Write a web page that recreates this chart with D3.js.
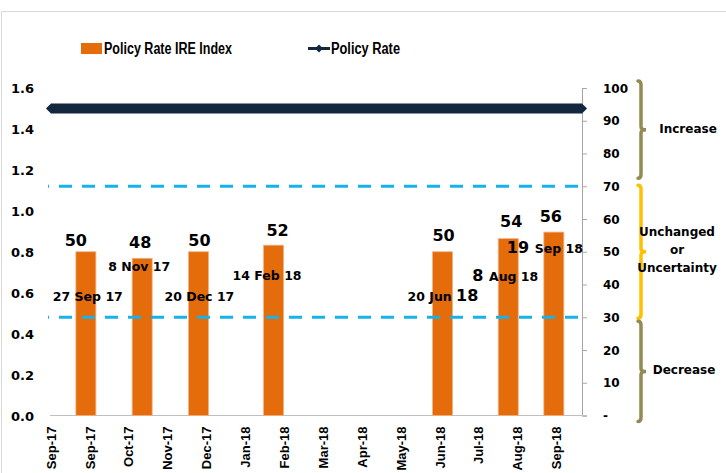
<!DOCTYPE html>
<html>
<head>
<meta charset="utf-8">
<script src="https://cdn.jsdelivr.net/npm/d3@7"></script>
<style>
  body { margin: 0; background: #fff; }
  svg { display: block; }
  .num { font-family: "DejaVu Sans", Verdana, sans-serif; font-weight: bold; fill: #000; }
  .leg { font-family: "Liberation Sans", Arial, sans-serif; font-weight: bold; font-size: 16px; fill: #000; }
  .xlab { font-family: "Liberation Sans", Arial, sans-serif; font-weight: bold; font-size: 13px; fill: #000; }
</style>
</head>
<body>
<div id="chart"></div>
<script>
"use strict";

// IRE index readings (right axis), one bar per policy meeting
const ireDates = ["2017-09-27", "2017-11-08", "2017-12-20", "2018-02-14", "2018-06-20", "2018-08-08", "2018-09-11"];
const ireValues = [50, 48, 50, 52, 50, 54, 56];
const meetingNotes = ["27 Sep 17", "8 Nov 17", "20 Dec 17", "14 Feb 18", "20 Jun 18", "8 Aug 18", "19 Sep 18"];

// policy rate (left axis)
const policyDates = ["2017-09-01", "2018-10-02"];
const policyValues = [1.5, 1.5];

// axes
const xTickDates = ["2017-09-01", "2017-09-30", "2017-10-29", "2017-11-27", "2017-12-26", "2018-01-24",
  "2018-02-22", "2018-03-23", "2018-04-21", "2018-05-20", "2018-06-18", "2018-07-17", "2018-08-15", "2018-09-13"];
const leftTicks = [0, 0.2, 0.4, 0.6, 0.8, 1.0, 1.2, 1.4, 1.6];
const rightTicks = [0, 10, 20, 30, 40, 50, 60, 70, 80, 90, 100];

// zones of the index
const thresholds = [70, 30];
const zoneNames = [["Increase"], ["Unchanged", "or", "Uncertainty"], ["Decrease"]];
const zoneLow = [70, 30, 0];
const zoneHigh = [100, 70, 30];

// hand placed tweaks (px), as in the original sheet
const valueShift = [[-10, 3], [-2, -1], [1, 3], [4, 0], [1, -2], [3, -3], [-3, -1]];
const noteShift = [[-33, 35], [-34, 44], [-34, 35], [-41, 41.5], [-35, 35], [-36, 41], [-47, 49.5]];
const noteBigWord = [-1, -1, -1, -1, 2, 0, 0];
const braceTrim = [[-7, -8], [-1, 1], [4, 6]];
const zoneTextX = [688, 677, 684];

const parse = d3.utcParse("%Y-%m-%d");
const W = 726, H = 473;

const svg = d3.select("#chart").append("svg").attr("width", W).attr("height", H);

// chart frame
svg.append("rect")
  .attr("x", 1.5).attr("y", 11.5).attr("width", 800).attr("height", 500)
  .attr("fill", "none").attr("stroke", "#d9d9d9");

const x = d3.scaleUtc()
  .domain([parse("2017-09-01"), parse("2018-10-02")])
  .range([51, 582]);
const yL = d3.scaleLinear().domain([0, 1.6]).range([415.5, 88]);
const yR = d3.scaleLinear().domain([0, 100]).range([415.5, 88]);

// left axis, labels only
const gl = svg.append("g").attr("transform", "translate(34,0)")
  .call(d3.axisLeft(yL).tickValues(leftTicks).tickFormat(d3.format(".1f")).tickSize(0));
gl.select(".domain").remove();
gl.selectAll("text").attr("class", "num").attr("font-size", 13).attr("dy", "0.35em").attr("x", 0);

// right axis
const gr = svg.append("g").attr("transform", "translate(582,0)")
  .call(d3.axisRight(yR).tickValues(rightTicks).tickSize(5)
    .tickFormat((d) => (d === 0 ? "-" : d)));
gr.select(".domain").attr("stroke", "#a6a6a6");
gr.selectAll(".tick line").attr("stroke", "#a6a6a6");
gr.selectAll("text").attr("class", "num").attr("font-size", 12).attr("x", 21).attr("dy", "0.35em");

// x axis
svg.append("line")
  .attr("x1", x.range()[0] - 1).attr("x2", x.range()[1] + 5)
  .attr("y1", yR(0)).attr("y2", yR(0))
  .attr("stroke", "#bfbfbf").attr("stroke-width", 1.2);

const fmt = d3.utcFormat("%b-%y");
svg.append("g").selectAll("text")
  .data(xTickDates)
  .join("text")
  .attr("class", "xlab")
  .attr("text-anchor", "end")
  .attr("transform", (d) => `translate(${x(parse(d))},${yR(0) + 11}) rotate(-90)`)
  .attr("dy", "0.36em")
  .text((d) => fmt(parse(d)));

// IRE bars
const barW = 20;
svg.append("g").selectAll("rect")
  .data(ireValues)
  .join("rect")
  .attr("x", (d, i) => x(parse(ireDates[i])) - barW / 2)
  .attr("y", (d) => yR(d))
  .attr("width", barW)
  .attr("height", (d) => yR(0) - yR(d))
  .attr("fill", "#e46c0a")
  .attr("stroke", "#f4b183")
  .attr("stroke-width", 0.8);

// threshold lines
svg.append("g").selectAll("line")
  .data(thresholds)
  .join("line")
  .attr("x1", x.range()[0] - 3).attr("x2", x.range()[1])
  .attr("y1", (d) => yR(d)).attr("y2", (d) => yR(d))
  .attr("stroke", "#17b2ea")
  .attr("stroke-width", 3)
  .attr("stroke-dasharray", "13,10")
  .attr("stroke-dashoffset", 12);

// policy rate line
const line = d3.line()
  .x((d, i) => x(parse(policyDates[i])))
  .y((d) => yL(d));
svg.append("path")
  .datum(policyValues)
  .attr("d", line)
  .attr("fill", "none")
  .attr("stroke", "#13273f")
  .attr("stroke-width", 10);
const diamond = d3.symbol().type(d3.symbolDiamond2).size(66);
svg.append("g").selectAll("path")
  .data(policyValues)
  .join("path")
  .attr("transform", (d, i) => `translate(${x(parse(policyDates[i]))},${yL(d)})`)
  .attr("d", diamond)
  .attr("fill", "#13273f");

// value labels
svg.append("g").selectAll("text")
  .data(ireValues)
  .join("text")
  .attr("class", "num")
  .attr("font-size", 16)
  .attr("text-anchor", "middle")
  .attr("x", (d, i) => x(parse(ireDates[i])) + valueShift[i][0])
  .attr("y", (d, i) => yR(d) - 9 + valueShift[i][1])
  .text((d) => d);

// meeting date notes
const notes = svg.append("g").selectAll("text")
  .data(meetingNotes)
  .join("text")
  .attr("class", "num")
  .attr("x", (d, i) => x(parse(ireDates[i])) + noteShift[i][0])
  .attr("y", (d, i) => yR(noteShift[i][1]));
notes.each(function (d, i) {
  const words = d.split(" ");
  const t = d3.select(this);
  words.forEach((w, k) => {
    t.append("tspan")
      .attr("font-size", k === noteBigWord[i] ? 16 : 12.5)
      .text(w + (k < words.length - 1 ? " " : ""));
  });
});

// zone braces on the right
const braceX = 641;
const braceColors = ["#948a54", "#ffc000", "#948a54"];
function bracePath(y1, y2) {
  const ym = (y1 + y2) / 2;
  return `M${braceX - 3},${y1} Q${braceX},${y1} ${braceX},${y1 + 4}` +
    ` L${braceX},${ym - 3} Q${braceX},${ym} ${braceX + 5},${ym}` +
    ` Q${braceX},${ym} ${braceX},${ym + 3} L${braceX},${y2 - 4}` +
    ` Q${braceX},${y2} ${braceX - 3},${y2}`;
}
const braceTop = (i) => yR(zoneHigh[i]) + braceTrim[i][0];
const braceBottom = (i) => yR(zoneLow[i]) + braceTrim[i][1];
const braceMid = (i) => (braceTop(i) + braceBottom(i)) / 2;

svg.append("g").selectAll("path")
  .data(zoneNames)
  .join("path")
  .attr("d", (d, i) => bracePath(braceTop(i), braceBottom(i)))
  .attr("fill", "none")
  .attr("stroke", (d, i) => braceColors[i])
  .attr("stroke-width", 3.5)
  .attr("stroke-linecap", "round");

svg.append("g").selectAll("text")
  .data(zoneNames)
  .join("text")
  .attr("class", "num")
  .attr("font-size", 12)
  .attr("text-anchor", "middle")
  .attr("y", (d, i) => braceMid(i) + 3 - (d.length - 1) * 9.5)
  .each(function (d, i) {
    d3.select(this).selectAll("tspan")
      .data(d)
      .join("tspan")
      .attr("x", zoneTextX[i])
      .attr("dy", (w, k) => (k ? 18 : 0))
      .text((w) => w);
  });

// legend
const leg = svg.append("g");
leg.append("rect").attr("x", 81).attr("y", 43).attr("width", 21).attr("height", 11).attr("fill", "#e46c0a");
leg.append("text").attr("class", "leg").attr("x", 104).attr("y", 54)
  .attr("textLength", 128).attr("lengthAdjust", "spacingAndGlyphs")
  .text("Policy Rate IRE Index");
leg.append("line").attr("x1", 308).attr("x2", 330).attr("y1", 48.5).attr("y2", 48.5)
  .attr("stroke", "#13273f").attr("stroke-width", 3);
leg.append("path").attr("transform", "translate(319,48.5)")
  .attr("d", d3.symbol().type(d3.symbolDiamond2).size(40)).attr("fill", "#13273f");
leg.append("text").attr("class", "leg").attr("x", 331).attr("y", 54)
  .attr("textLength", 69).attr("lengthAdjust", "spacingAndGlyphs")
  .text("Policy Rate");
</script>
</body>
</html>
